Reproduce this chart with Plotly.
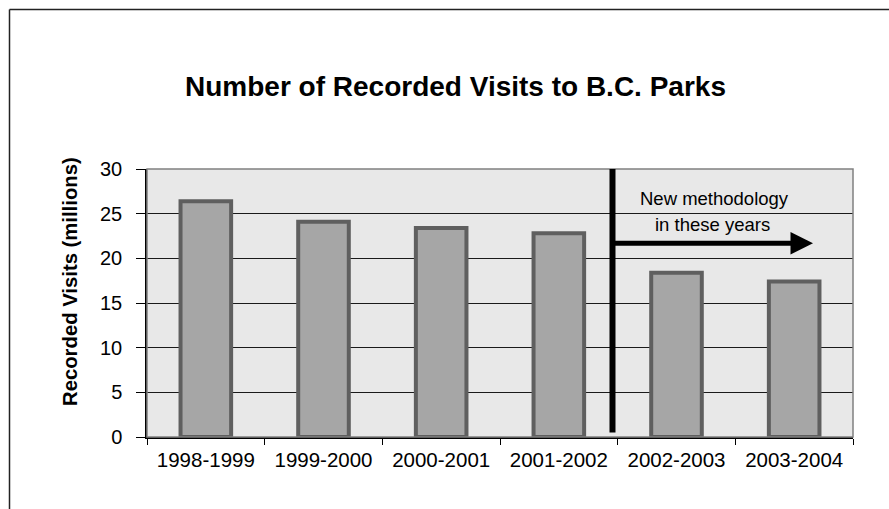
import plotly.graph_objects as go

categories = ["1998-1999", "1999-2000", "2000-2001", "2001-2002", "2002-2003", "2003-2004"]
visits = [26.4, 24.1, 23.4, 22.8, 18.4, 17.4]
y_ticks = [0, 5, 10, 15, 20, 25, 30]

title_text = "Number of Recorded Visits to B.C. Parks"
y_title = "Recorded Visits (millions)"
note_lines = ["New methodology", "in these years"]

FONT = "Liberation Sans, Arial, sans-serif"

fig = go.Figure()
fig.add_trace(go.Bar(
    x=categories, y=visits, width=0.43,
    marker=dict(color="#a6a6a6", line=dict(color="#5f5f5f", width=4)),
))

fig.update_layout(
    width=889, height=509,
    margin=dict(l=147, r=36, t=169, b=72),
    paper_bgcolor="white", plot_bgcolor="#e8e8e8",
    showlegend=False,
    font=dict(family=FONT, color="black"),
    title=dict(text="<b>" + title_text + "</b>", x=455.5 / 889, xanchor="center",
               y=1 - 86 / 509, yanchor="middle", font=dict(size=28, family=FONT)),
)
fig.update_xaxes(
    type="category", tickson="boundaries", ticks="outside", ticklen=6,
    tickcolor="black", showline=True, linecolor="black", linewidth=1.5,
    showgrid=False, tickfont=dict(size=20.5), range=[-0.5, 5.5],
    ticklabelstandoff=4,
)
fig.update_yaxes(
    range=[0, 30], tickvals=y_ticks, ticks="outside", ticklen=9,
    tickcolor="black", showline=True, linecolor="black", linewidth=1.5,
    showgrid=True, gridcolor="#1a1a1a", gridwidth=1, zeroline=False,
    tickfont=dict(size=20), ticklabelstandoff=10,
)

# rotated y-axis title
fig.add_annotation(xref="paper", yref="paper", x=(70 - 147) / 706, y=(437 - 282) / 268,
                   text="<b>" + y_title + "</b>", textangle=-90, showarrow=False,
                   font=dict(size=20.3, family=FONT), xanchor="center", yanchor="middle")

# plot-area border
fig.add_shape(type="rect", xref="paper", yref="paper", x0=0, x1=1, y0=0, y1=1,
              line=dict(color="#808080", width=1.5), layer="above")
# outer chart frame: top and left edges only (rest runs off the image)
frame_x0 = (9.5 - 147) / 706
frame_y1 = (437 - 9.5) / 268
fig.add_shape(type="line", xref="paper", yref="paper",
              x0=frame_x0, x1=1 + 36 / 706, y0=frame_y1, y1=frame_y1,
              line=dict(color="#222", width=1.5))
fig.add_shape(type="line", xref="paper", yref="paper",
              x0=frame_x0, x1=frame_x0, y0=-72 / 268, y1=frame_y1,
              line=dict(color="#222", width=1.5))

# methodology divider
fig.add_shape(type="line", xref="x", yref="y", x0=3.456, x1=3.456, y0=0.5, y1=30,
              line=dict(color="black", width=6), layer="above")

# arrow
fig.add_annotation(x=5.16, y=21.7, ax=3.46, ay=21.7, xref="x", yref="y",
                   axref="x", ayref="y", text="", showarrow=True,
                   arrowhead=2, arrowsize=0.9, arrowwidth=5, arrowcolor="black")

fig.add_annotation(x=4.327, y=26.75, xref="x", yref="y", text=note_lines[0],
                   showarrow=False, font=dict(size=18.5, family=FONT))
fig.add_annotation(x=4.31, y=23.8, xref="x", yref="y", text=note_lines[1],
                   showarrow=False, font=dict(size=18.5, family=FONT))

fig.write_html("out.html")
